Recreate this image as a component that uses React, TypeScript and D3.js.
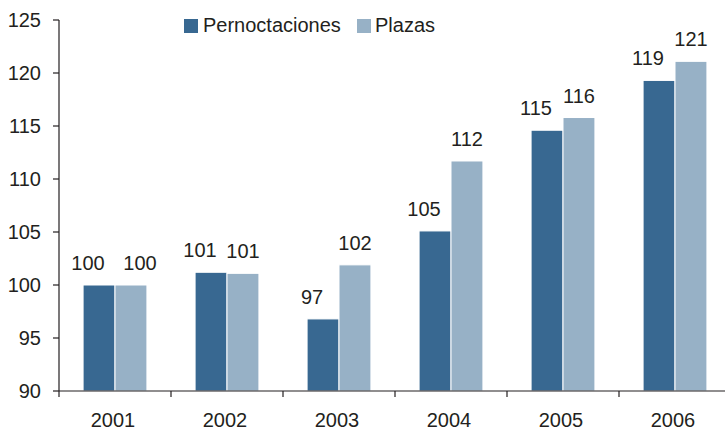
import React from 'react';
import * as d3 from 'd3';

const years = ['2001', '2002', '2003', '2004', '2005', '2006'];
const seriesNames = ['Pernoctaciones', 'Plazas'];
const pernoctaciones = [100, 101.2, 96.8, 105.1, 114.6, 119.3];
const plazas = [100, 101.1, 101.9, 111.7, 115.8, 121.1];
const yTicks = [90, 95, 100, 105, 110, 115, 120, 125];

const colors = ['#386891', '#97b1c6'];
const ink = '#231f20';
const font = '"Liberation Sans", Arial, sans-serif';

const App = () => {
  const width = 725;
  const height = 432;
  const left = 59;

  const x = d3.scaleBand()
    .domain(years)
    .range([left, 731])
    .paddingInner(0.43)
    .paddingOuter(0.215);

  const xs = d3.scaleBand()
    .domain(seriesNames)
    .range([0, x.bandwidth()]);

  const y = d3.scaleLinear()
    .domain([90, 125])
    .range([391, 20]);

  const values = [pernoctaciones, plazas];

  return (
    <svg width={width} height={height} style={{ position: 'absolute', left: 0, top: 0 }}
      fontFamily={font} fill={ink}>
      <rect width={width} height={height} fill="#fff" />

      {/* bars */}
      {seriesNames.map((name, s) => (
        <g key={name} fill={colors[s]}>
          {years.map((yr, i) => (
            <rect key={yr}
              x={x(yr)! + xs(name)!}
              y={y(values[s][i])}
              width={xs.bandwidth()}
              height={y(90) - y(values[s][i])}
              stroke="#fff" strokeWidth={1} />
          ))}
        </g>
      ))}

      {/* value labels */}
      {seriesNames.map((name, s) => (
        <g key={name} fontSize={20} textAnchor="middle">
          {years.map((yr, i) => {
            const dx = s === 0 ? -11 : (i === 0 ? 9 : 0);
            return (
              <text key={yr}
                x={x(yr)! + xs(name)! + xs.bandwidth() / 2 + dx}
                y={y(values[s][i]) - 15}>
                {Math.round(values[s][i])}
              </text>
            );
          })}
        </g>
      ))}

      {/* y axis */}
      <g stroke={ink} strokeWidth={1.2}>
        <line x1={left} x2={left} y1={y(125)} y2={y(90)} />
        {yTicks.map(t => (
          <line key={t} x1={left - 6} x2={left} y1={y(t)} y2={y(t)} />
        ))}
      </g>
      <g fontSize={20} textAnchor="end">
        {yTicks.map(t => (
          <text key={t} x={41} y={y(t)} dy="0.36em">{t}</text>
        ))}
      </g>

      {/* x axis */}
      <g stroke={ink} strokeWidth={1.2}>
        <line x1={left} x2={width} y1={y(90)} y2={y(90)} />
        {years.map((yr, i) => (
          <line key={yr} x1={left + x.step() * i} x2={left + x.step() * i} y1={y(90)} y2={y(90) + 6} />
        ))}
      </g>
      <g fontSize={20} textAnchor="middle">
        {years.map(yr => (
          <text key={yr} x={x(yr)! + x.bandwidth() / 2 - 2} y={427}>{yr}</text>
        ))}
      </g>

      {/* legend */}
      <g fontSize={20}>
        <rect x={184} y={19} width={14} height={14} fill={colors[0]} />
        <text x={203} y={32}>{seriesNames[0]}</text>
        <rect x={357} y={19} width={14} height={14} fill={colors[1]} />
        <text x={375} y={32}>{seriesNames[1]}</text>
      </g>
    </svg>
  );
};

export default App;
